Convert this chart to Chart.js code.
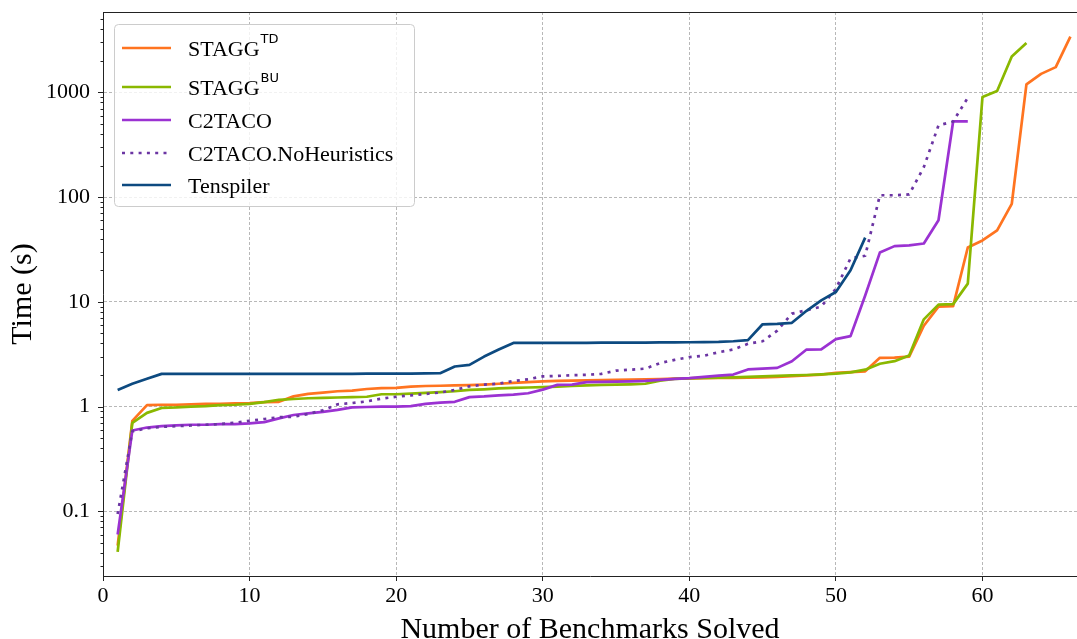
<!DOCTYPE html>
<html>
<head>
<meta charset="utf-8">
<title>Time vs benchmarks solved</title>
<script src="https://cdn.jsdelivr.net/npm/chart.js@4.4.0/dist/chart.umd.min.js"></script>
<style>
  html, body { margin: 0; padding: 0; background: #fff; }
  #wrap { position: relative; width: 1077px; height: 639px; }
</style>
</head>
<body>
<div id="wrap"><canvas id="timeChart"></canvas></div>
<script>
// series names ("^" marks a superscript part in the legend)
const seriesNames = ["STAGG^TD", "STAGG^BU", "C2TACO", "C2TACO.NoHeuristics", "Tenspiler"];
const seriesColors = ["#ff7420", "#8ab800", "#9b32d2", "#6b35a3", "#0d4a80"];

// time (s) for the n-th solved benchmark, n = 1, 2, 3, ...
const staggTD = [0.047, 0.73, 1.03, 1.04, 1.04, 1.05, 1.06, 1.06, 1.07, 1.08,
  1.10, 1.11, 1.25, 1.32, 1.36, 1.40, 1.42, 1.47, 1.50, 1.51,
  1.55, 1.57, 1.58, 1.59, 1.60, 1.62, 1.65, 1.68, 1.71, 1.74,
  1.76, 1.77, 1.78, 1.79, 1.80, 1.81, 1.82, 1.83, 1.85, 1.86,
  1.87, 1.88, 1.88, 1.89, 1.90, 1.92, 1.95, 1.98, 2.02, 2.10,
  2.13, 2.17, 2.92, 2.93, 3.0, 5.9, 9.0, 9.1, 33, 38.5,
  48, 86, 1190, 1500, 1740, 3400];
const staggBU = [0.041, 0.70, 0.87, 0.97, 0.98, 1.00, 1.01, 1.03, 1.04, 1.06,
  1.10, 1.16, 1.18, 1.20, 1.21, 1.22, 1.23, 1.24, 1.31, 1.31,
  1.33, 1.35, 1.37, 1.40, 1.44, 1.46, 1.49, 1.51, 1.52, 1.53,
  1.55, 1.57, 1.59, 1.61, 1.62, 1.63, 1.65, 1.77, 1.84, 1.86,
  1.88, 1.89, 1.90, 1.92, 1.94, 1.96, 1.98, 2.00, 2.03, 2.06,
  2.12, 2.25, 2.56, 2.71, 3.07, 6.8, 9.4, 9.5, 14.9, 900,
  1030, 2200, 2950];
const c2taco = [0.060, 0.59, 0.63, 0.65, 0.66, 0.67, 0.67, 0.68, 0.68, 0.69,
  0.71, 0.77, 0.83, 0.86, 0.89, 0.93, 0.98, 0.99, 1.00, 1.00,
  1.01, 1.06, 1.09, 1.11, 1.23, 1.25, 1.28, 1.30, 1.34, 1.45,
  1.61, 1.62, 1.71, 1.72, 1.73, 1.74, 1.76, 1.80, 1.84, 1.87,
  1.92, 1.97, 2.02, 2.26, 2.30, 2.34, 2.71, 3.5, 3.52, 4.4,
  4.7, 11.5, 29.5, 34, 34.5, 36, 60, 527, 527];
const c2tacoNoHeur = [0.094, 0.58, 0.62, 0.64, 0.65, 0.66, 0.67, 0.68, 0.70, 0.73,
  0.76, 0.79, 0.80, 0.85, 0.92, 1.05, 1.08, 1.12, 1.19, 1.24,
  1.28, 1.32, 1.36, 1.44, 1.56, 1.62, 1.65, 1.75, 1.82, 1.94,
  1.96, 1.99, 2.01, 2.05, 2.20, 2.25, 2.30, 2.60, 2.79, 2.96,
  3.05, 3.30, 3.50, 3.97, 4.2, 5.3, 7.7, 8.3, 9.0, 13.3,
  26, 27.5, 104, 104, 106, 193, 483, 527, 888];
const tenspiler = [1.44, 1.65, 1.84, 2.05, 2.05, 2.05, 2.05, 2.05, 2.05, 2.05,
  2.05, 2.05, 2.05, 2.05, 2.05, 2.05, 2.05, 2.06, 2.06, 2.06,
  2.06, 2.07, 2.08, 2.41, 2.50, 3.0, 3.5, 4.05, 4.05, 4.05,
  4.05, 4.06, 4.06, 4.07, 4.07, 4.08, 4.08, 4.09, 4.10, 4.11,
  4.12, 4.14, 4.2, 4.3, 6.1, 6.15, 6.3, 8.2, 10.3, 12.4,
  20, 41];

const allSeries = [staggTD, staggBU, c2taco, c2tacoNoHeur, tenspiler];

// axes
const xTickValues = [0, 10, 20, 30, 40, 50, 60];
const yMajorValues = [0.1, 1, 10, 100, 1000];
const yTickLabels = ["0.1", "1", "10", "100", "1000"];
const xRange = [0, 66.45];
const yRange = [0.0241, 5845];

const serif = "'Liberation Serif', 'Times New Roman', serif";

function isMajorY(v) {
  return yMajorValues.some((m) => Math.abs(v - m) / m < 1e-6);
}

// top frame line + y ticks (major long, minor short)
const frameAndTicks = {
  id: "frameAndTicks",
  afterDatasetsDraw(chart) {
    const ctx = chart.ctx;
    const area = chart.chartArea;
    const yScale = chart.scales.y;
    ctx.save();
    ctx.strokeStyle = "#222";
    ctx.lineWidth = 1;
    ctx.beginPath();
    ctx.moveTo(area.left, area.top + 0.5);
    ctx.lineTo(area.right, area.top + 0.5);
    ctx.stroke();
    yScale.ticks.forEach((t) => {
      const py = Math.round(yScale.getPixelForValue(t.value)) + 0.5;
      const len = isMajorY(t.value) ? 5 : 2.5;
      ctx.beginPath();
      ctx.moveTo(area.left - len, py);
      ctx.lineTo(area.left, py);
      ctx.stroke();
    });
    ctx.restore();
  },
};

// legend box drawn like the original (with superscripts)
const legendBox = {
  id: "legendBox",
  afterDraw(chart) {
    const ctx = chart.ctx;
    const area = chart.chartArea;
    const x0 = area.left + 11, y0 = area.top + 12, w = 300, h = 182;
    const rowY = [24, 63, 96, 129, 161];
    ctx.save();
    ctx.beginPath();
    ctx.roundRect(x0 + 0.5, y0 + 0.5, w, h, 4);
    ctx.fillStyle = "rgba(255,255,255,0.8)";
    ctx.fill();
    ctx.strokeStyle = "#cccccc";
    ctx.lineWidth = 1;
    ctx.stroke();
    chart.data.datasets.forEach((ds, i) => {
      const ly = y0 + rowY[i];
      ctx.beginPath();
      ctx.strokeStyle = ds.borderColor;
      ctx.lineWidth = ds.borderWidth;
      ctx.setLineDash(ds.borderDash || []);
      ctx.lineCap = "butt";
      ctx.moveTo(x0 + 8, ly);
      ctx.lineTo(x0 + 57, ly);
      ctx.stroke();
      ctx.setLineDash([]);
      const parts = ds.label.split("^");
      ctx.fillStyle = "#000";
      ctx.textBaseline = "alphabetic";
      ctx.font = "22px " + serif;
      ctx.fillText(parts[0], x0 + 74, ly + 7.5);
      if (parts[1]) {
        const mw = ctx.measureText(parts[0]).width;
        ctx.font = "13px 'DejaVu Sans', sans-serif";
        ctx.fillText(parts[1], x0 + 75 + mw, ly + 7.5 - 12.5);
      }
    });
    ctx.restore();
  },
};

document.addEventListener("DOMContentLoaded", function () {
  const ctx = document.getElementById("timeChart").getContext("2d");

  const datasets = allSeries.map((vals, i) => ({
    label: seriesNames[i],
    data: vals.map((v, k) => ({ x: k + 1, y: v })),
    borderColor: seriesColors[i],
    backgroundColor: seriesColors[i],
    borderWidth: 2.7,
    borderDash: i === 3 ? [3, 5.3] : [],
    borderJoinStyle: "round",
    pointRadius: 0,
    fill: false,
    tension: 0,
    order: allSeries.length - i,
  }));

  new Chart(ctx, {
    type: "line",
    data: { datasets: datasets },
    plugins: [frameAndTicks, legendBox],
    options: {
      responsive: true,
      maintainAspectRatio: false,
      animation: false,
      layout: { padding: { top: 12, left: 0, right: 0, bottom: 0 } },
      plugins: {
        legend: { display: false },
        tooltip: { enabled: false },
      },
      scales: {
        x: {
          type: "linear",
          min: xRange[0],
          max: xRange[1],
          afterBuildTicks: (scale) => {
            scale.ticks = xTickValues.map((v) => ({ value: v }));
          },
          afterFit: (scale) => {
            scale.height = 63;
            scale.paddingLeft = 0;
            scale.paddingRight = 0;
          },
          ticks: {
            autoSkip: false,
            maxRotation: 0,
            padding: 2,
            color: "#000",
            font: { family: serif, size: 22 },
          },
          grid: {
            color: "#b8b8b8",
            lineWidth: 1,
            tickLength: 5,
            tickColor: "#222",
            tickWidth: 1,
          },
          border: { color: "#222", width: 1, dash: [3, 2] },
          title: {
            display: true,
            text: "Number of Benchmarks Solved",
            color: "#000",
            font: { family: serif, size: 30, lineHeight: 1 },
            padding: { top: 0, bottom: -6 },
          },
        },
        y: {
          type: "logarithmic",
          min: yRange[0],
          max: yRange[1],
          afterBuildTicks: (scale) => {
            const ticks = [];
            for (let e = -2; e <= 3; e++) {
              for (let m = 1; m <= 9; m++) {
                const v = m * Math.pow(10, e);
                if (v >= yRange[0] && v <= yRange[1]) ticks.push({ value: v });
              }
            }
            scale.ticks = ticks;
          },
          afterFit: (scale) => {
            scale.width = 103;
            scale.paddingTop = 0;
            scale.paddingBottom = 0;
          },
          ticks: {
            autoSkip: false,
            padding: 13,
            color: "#000",
            font: { family: serif, size: 22 },
            callback: (value) => {
              const idx = yMajorValues.findIndex((m) => Math.abs(value - m) / m < 1e-6);
              return idx >= 0 ? yTickLabels[idx] : "";
            },
          },
          grid: {
            drawTicks: false,
            lineWidth: 1,
            color: (c) => (c.tick && isMajorY(c.tick.value) ? "#b8b8b8" : "rgba(0,0,0,0)"),
          },
          border: { color: "#222", width: 1, dash: [3, 2] },
          title: {
            display: true,
            text: "Time (s)",
            color: "#000",
            font: { family: serif, size: 30, lineHeight: 1.2 },
            padding: { top: 5, bottom: 0 },
          },
        },
      },
    },
  });
});
</script>
</body>
</html>
